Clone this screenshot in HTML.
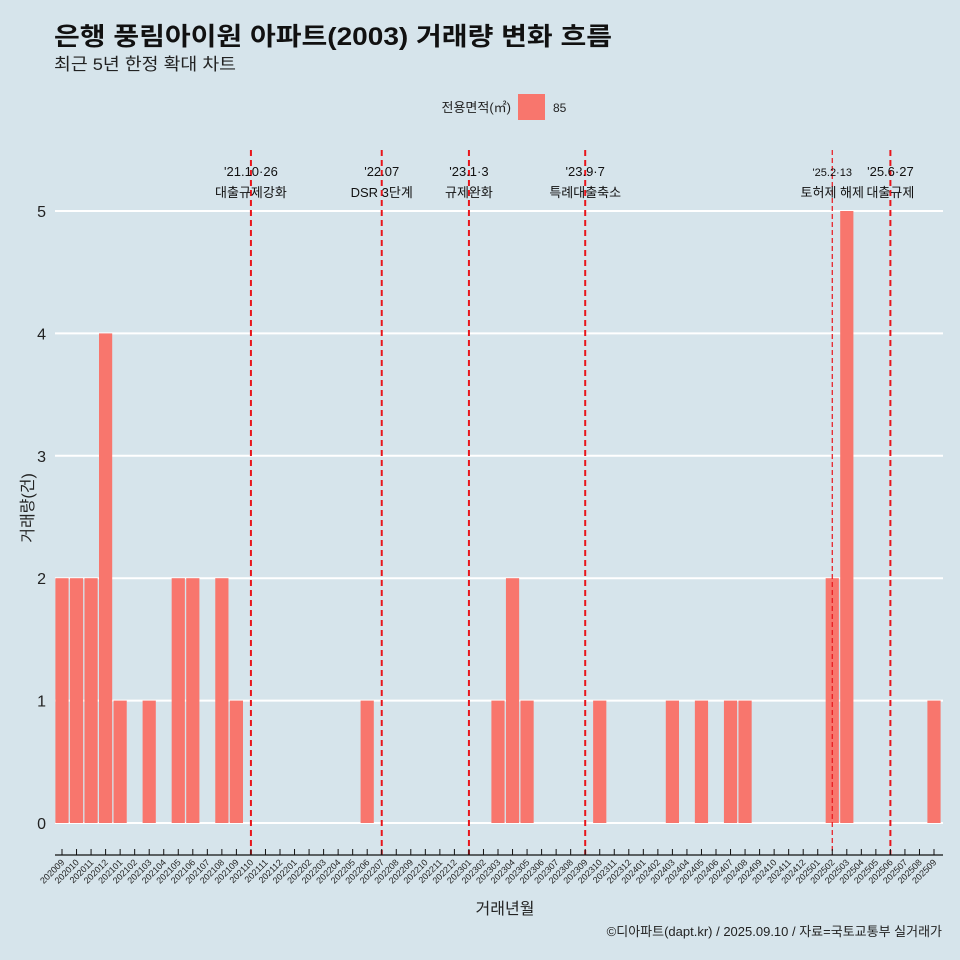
<!DOCTYPE html>
<html><head><meta charset="utf-8"><style>
body{margin:0;background:#d6e4eb;}
svg{display:block;font-family:"Liberation Sans","Noto Sans CJK KR",sans-serif;}
</style></head><body>
<svg id="c" width="960" height="960" viewBox="0 0 960 960">
<rect width="960" height="960" fill="#d6e4eb"/>
<text x="54" y="45" font-size="25" font-weight="bold" fill="#111" textLength="558" lengthAdjust="spacingAndGlyphs">은행 풍림아이원 아파트(2003) 거래량 변화 흐름</text>
<text x="54" y="70" font-size="17" fill="#222" textLength="182" lengthAdjust="spacingAndGlyphs">최근 5년 한정 확대 차트</text>
<g>
<text x="511" y="112" font-size="13" text-anchor="end" fill="#222">전용면적(㎡)</text>
<rect x="518" y="94" width="27" height="26" fill="#F8766D"/>
<text x="553" y="112" font-size="12" fill="#222">85</text>
</g>
<g id="grid"></g><g id="bars"></g><g id="events"></g><g id="axes"></g>
<text x="505" y="914" font-size="16" text-anchor="middle" fill="#222">거래년월</text>
<text transform="translate(33,508) rotate(-90)" font-size="16" text-anchor="middle" fill="#222">거래량(건)</text>
<text x="942" y="936" font-size="13" text-anchor="end" fill="#222">©디아파트(dapt.kr) / 2025.09.10 / 자료=국토교통부 실거래가</text>
</svg>
<script>
const categories=[];for(let y=2020,m=9;!(y===2025&&m===10);){categories.push(y+String(m).padStart(2,'0'));m++;if(m>12){m=1;y++;}}
const counts=[2,2,2,4,1,0,1,0,2,2,0,2,1,0,0,0,0,0,0,0,0,1,0,0,0,0,0,0,0,0,1,2,1,0,0,0,0,1,0,0,0,0,1,0,1,0,1,1,0,0,0,0,0,2,5,0,0,0,0,0,1];
const yTicks=[0,1,2,3,4,5];
const eventCats=["202110","202207","202301","202309","202502","202506"];
const eventDates=["'21.10·26","'22.07","'23.1·3","'23.9·7","'25.2·13","'25.6·27"];
const eventLabels=["대출규제강화","DSR 3단계","규제완화","특례대출축소","토허제 해제","대출규제"];
const NS="http://www.w3.org/2000/svg";
const x0=62,dx=(934-62)/60;
const xs=i=>x0+i*dx;
const ys=v=>823-v*122.4;
function mk(t,a,p){const e=document.createElementNS(NS,t);for(const k in a)e.setAttribute(k,a[k]);document.getElementById(p).appendChild(e);return e;}
yTicks.forEach(v=>{
 const l=mk('line',{x1:55,x2:943,y1:ys(v),y2:ys(v),stroke:'#fff','stroke-width':2},'grid');
 
 
 const t=mk('text',{x:46,y:ys(v)+6,'font-size':16,'text-anchor':'end',fill:'#222'},'axes');t.textContent=v;
 
 
});
counts.forEach((v,i)=>{
 if(v<=0)return;
 const r=mk('rect',{x:xs(i)-6.6,y:ys(v),width:13.2,height:ys(0)-ys(v),fill:'#F8766D'},'bars');
 
 
});
eventCats.forEach((c,k)=>{
 const i=categories.indexOf(c),x=xs(i),thin=c==="202502";
 const l=mk('line',{x1:x,x2:x,y1:150,y2:855,stroke:'#e8151b','stroke-width':thin?1.2:2,'stroke-dasharray':thin?'5,3':'6,4'},'events');
 
 
 const fs=thin?11:13;
 const t1=mk('text',{x:x,y:176,'font-size':fs,'text-anchor':'middle',fill:'#111'},'events');t1.textContent=eventDates[k];
 
 
 const t2=mk('text',{x:x,y:197,'font-size':13,'text-anchor':'middle',fill:'#111'},'events');t2.textContent=eventLabels[k];
 
 
});
const ax=mk('line',{x1:55,x2:943,y1:855,y2:855,stroke:'#111','stroke-width':1.2},'axes');


categories.forEach((c,i)=>{
 const x=xs(i);
 const tk=mk('line',{x1:x,x2:x,y1:849,y2:855,stroke:'#111'},'axes');
 
 
 const t=mk('text',{x:x+3,y:863,'font-size':9,'text-anchor':'end',fill:'#222',transform:`rotate(-45 ${x+3} 863)`},'axes');t.textContent=c;
 
 
});
</script>
</body></html>
